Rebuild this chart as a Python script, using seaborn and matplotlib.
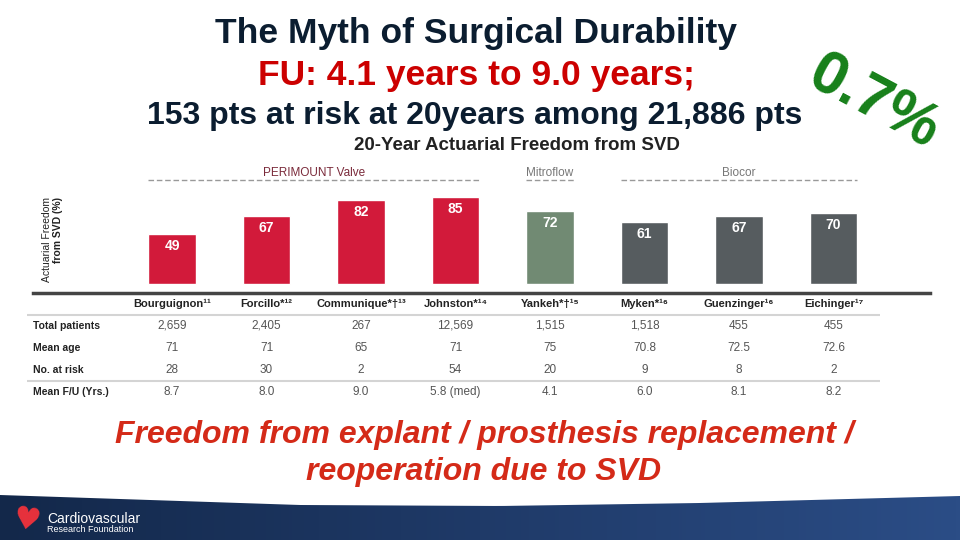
import numpy as np
import pandas as pd
import matplotlib.pyplot as plt
import matplotlib.transforms as mtransforms
from matplotlib.colors import LinearSegmentedColormap
from matplotlib.patches import Polygon
import seaborn as sns

# --- data ---
studies = ["Bourguignon¹¹", "Forcillo*¹²", "Communique*†¹³", "Johnston*¹⁴",
           "Yankeh*†¹⁵", "Myken*¹⁶", "Guenzinger¹⁶", "Eichinger¹⁷"]
freedom = [49, 67, 82, 85, 72, 61, 67, 70]
valve = ["PERIMOUNT Valve"] * 4 + ["Mitroflow"] + ["Biocor"] * 3
valve_groups = ["PERIMOUNT Valve", "Mitroflow", "Biocor"]

row_labels = ["Total patients", "Mean age", "No. at risk", "Mean F/U (Yrs.)"]
total_patients = ["2,659", "2,405", "267", "12,569", "1,515", "1,518", "455", "455"]
mean_age = ["71", "71", "65", "71", "75", "70.8", "72.5", "72.6"]
at_risk = ["28", "30", "2", "54", "20", "9", "8", "2"]
mean_fu = ["8.7", "8.0", "9.0", "5.8 (med)", "4.1", "6.0", "8.1", "8.2"]

palette = {"PERIMOUNT Valve": "#d21a3a", "Mitroflow": "#718a73", "Biocor": "#565c5f"}
group_text = {"PERIMOUNT Valve": "#7a2a3a", "Mitroflow": "#777777", "Biocor": "#777777"}
navy = "#0b1d30"

sns.set_theme(style="white")
plt.rcParams["font.family"] = ["Liberation Sans", "DejaVu Sans"]

fig = plt.figure(figsize=(9.6, 5.4), dpi=100)
fig.patch.set_facecolor("white")

# background axes in pixel coordinates for slide decoration
bg = fig.add_axes([0, 0, 1, 1], zorder=0)
bg.set_xlim(0, 960)
bg.set_ylim(540, 0)
bg.axis("off")

# footer band
fx = np.array([0, 150, 300, 500, 700, 960])
fy = np.array([495, 500, 505, 506, 503, 496])
xs = np.linspace(0, 960, 100)
top = np.interp(xs, fx, fy)
poly = Polygon(np.column_stack([np.r_[xs, 960, 0], np.r_[top, 540, 540]]),
               closed=True, facecolor="none", edgecolor="none")
bg.add_patch(poly)
cmap = LinearSegmentedColormap.from_list("band", ["#13284a", "#1f3a68", "#2b4d86"])
grad = bg.imshow(np.linspace(0, 1, 256)[None, :], aspect="auto", cmap=cmap,
                 extent=[0, 960, 540, 490], zorder=1)
grad.set_clip_path(poly)
bg.set_xlim(0, 960)
bg.set_ylim(540, 0)
bg.text(26, 521, "♥", color="#e8323c", fontsize=22, ha="center", va="center",
        family="DejaVu Sans", rotation=-10, zorder=3)
bg.text(47, 519, "Cardiovascular", color="white", fontsize=10, va="center", zorder=3)
bg.text(47, 530, "Research Foundation", color="white", fontsize=6.5, va="center", zorder=3)

# slide titles
bg.text(476, 33, "The Myth of Surgical Durability", color=navy, fontsize=25.5,
        fontweight="bold", ha="center", va="center")
bg.text(476, 75, "FU: 4.1 years to 9.0 years;", color="#cc0000", fontsize=25.5,
        fontweight="bold", ha="center", va="center")
bg.text(475, 116, "153 pts at risk at 20years among 21,886 pts", color=navy,
        fontsize=23, fontweight="bold", ha="center", va="center")
bg.text(874, 104, "0.7%", color="#17801a", fontsize=44, fontweight="bold",
        ha="center", va="center", rotation=-28)
bg.text(517, 145, "20-Year Actuarial Freedom from SVD", color="#222222",
        fontsize=13.5, fontweight="bold", ha="center", va="center")
bg.text(47, 197, "Actuarial Freedom", fontsize=7.5, rotation=90, ha="center",
        va="top", color="#222222")
bg.text(58, 197, "from SVD (%)", fontsize=7.5, rotation=90, ha="center",
        va="top", color="#222222", fontweight="bold")

bg.text(484, 435, "Freedom from explant / prosthesis replacement /", color="#d42a18",
        fontsize=23, fontweight="bold", style="italic", ha="center", va="center")
bg.text(484, 472, "reoperation due to SVD", color="#d42a18",
        fontsize=23, fontweight="bold", style="italic", ha="center", va="center")

# bar chart axes
ax = fig.add_axes([33 / 960, (540 - 293) / 540, (930 - 33) / 960, (293 - 182) / 540], zorder=2)
ax.patch.set_alpha(0)
df = pd.DataFrame({"study": studies, "freedom": freedom, "valve": valve})
sns.barplot(data=df, x="study", y="freedom", hue="valve", palette=palette,
            dodge=False, width=0.5, legend=False, saturation=1, ax=ax)
ax.set_xlim(-1.471, 8.021)
ax.set_ylim(-8.8, 100)
for i, v in enumerate(freedom):
    ax.annotate(str(v), (i, v), xytext=(0, -5), textcoords="offset pixels",
                ha="center", va="top", color="white", fontsize=10, fontweight="bold")
for s in ["top", "right", "left"]:
    ax.spines[s].set_visible(False)
ax.spines["bottom"].set_color("#444444")
ax.spines["bottom"].set_linewidth(2.5)
ax.set_yticks([])
ax.set_xlabel("")
ax.set_ylabel("")
ax.set_xticks(range(len(studies)))
ax.set_xticklabels(studies, fontsize=8, fontweight="bold", color="#222222")
ax.tick_params(axis="x", length=0, pad=4)

# group labels with dashed underline (x in data units, y in pixels)
blend = mtransforms.blended_transform_factory(ax.transData, bg.transData)
for g in valve_groups:
    idx = [i for i, v in enumerate(valve) if v == g]
    x0, x1 = min(idx) - 0.25, max(idx) + 0.25
    bg.plot([x0, x1], [180, 180], transform=blend, color="#999999", lw=1,
            ls=(0, (4, 2)), clip_on=False)
    bg.text((x0 + x1) / 2, 173, g, transform=blend, ha="center", va="center",
            fontsize=8.5, color=group_text[g])

# table beneath
rows = [total_patients, mean_age, at_risk, mean_fu]
row_y = [326, 348, 370, 392]
bg.hlines([315, 381], 27, 880, color="#d4d4d4", lw=1.5)
for label, vals, y in zip(row_labels, rows, row_y):
    bg.text(33, y, label, fontsize=7.5, fontweight="bold", color="#222222", va="center")
    for i, val in enumerate(vals):
        bg.text(i, y, val, transform=blend, ha="center", va="center",
                fontsize=8.5, color="#555555")

fig.savefig("out.png", dpi=100)
